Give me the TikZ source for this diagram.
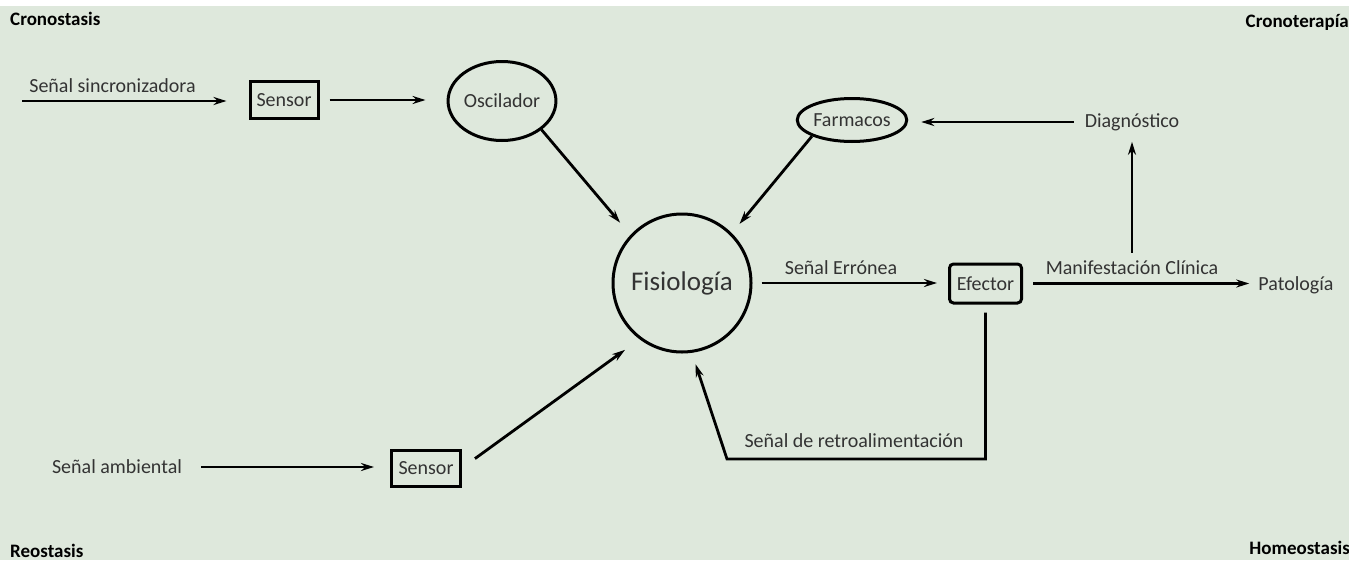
\documentclass[tikz,border=0pt]{standalone}
\usepackage{fontspec}
\setmainfont{Carlito}
\usetikzlibrary{arrows.meta,shapes.geometric,calc}
\definecolor{bg}{HTML}{DEE8DC}
\definecolor{txt}{HTML}{333333}
\begin{document}
\begin{tikzpicture}[x=1pt,y=-1pt,
  lbl/.style={font=\fontsize{20}{24}\selectfont,text=txt,inner sep=0pt},
  corner/.style={font=\fontsize{19}{22}\selectfont\bfseries,text=black,inner sep=0pt},
  sensorbox/.style={draw,line width=3pt,minimum width=68pt,minimum height=37pt,inner sep=0pt,font=\fontsize{20}{24}\selectfont,text=txt},
  oval/.style={ellipse,draw,line width=3pt,inner sep=0pt,font=\fontsize{20}{24}\selectfont,text=txt},
  conn/.style={line width=2.8pt,-{Stealth[length=13pt,width=8pt]}}
]
\useasboundingbox (0,0) rectangle (1349,560);
\fill[white] (0,0) rectangle (1349,560);
\fill[bg] (0,6) rectangle (1349,560);

% corner labels
\node[corner,anchor=west] (cron) at (10,19) {Cronostasis};
\node[corner,anchor=east] (crot) at (1349,22) {Cronoterapía};
\node[corner,anchor=west] (reo) at (10,551) {Reostasis};
\node[corner,anchor=east] (homeo) at (1350,548) {Homeostasis};

% nodes
\node[sensorbox] (s1) at (284,100) {Sensor};
\node[oval,minimum width=91pt,minimum height=79pt] (osc) at (502,101) {Oscilador};
\node[circle,draw,line width=3pt,minimum size=138pt,inner sep=0pt,font=\fontsize{27}{32}\selectfont,text=txt] (fis) at (682,283) {Fisiología};
\node[oval,minimum width=97pt,minimum height=43pt] (farm) at (852,120) {Farmacos};
\node[lbl] (diag) at (1132,122) {Diagnóstico};
\node[draw,rounded corners=4pt,line width=3pt,minimum width=72pt,minimum height=39pt,inner sep=0pt,font=\fontsize{20}{24}\selectfont,text=txt] (eff) at (985.5,283.5) {Efector};
\node[lbl] (pat) at (1296,285) {Patología};
\node[lbl] (amb) at (117,467) {Señal ambiental};
\node[sensorbox,minimum width=69pt,minimum height=36pt] (s2) at (426,468) {Sensor};

% edge labels
\node[lbl] (lsync) at (112.5,86) {Señal sincronizadora};
\node[lbl] (lerr) at (841,268) {Señal Errónea};
\node[lbl] (lman) at (1132,268) {Manifestación Clínica};
\node[lbl] (lret) at (854,441) {Señal de retroalimentación};

% free coordinates
\coordinate (in1) at (22,101);
\coordinate (fbc) at (727,459);

% connectors
\draw[conn,shorten >=22pt] (in1) -- (in1 -| s1.west);
\draw[conn,shorten <=10pt,shorten >=21pt] (s1.east) -- (s1.east -| osc.west);
\draw[conn,shorten >=16pt] (osc.-36) -- (fis.137);
\draw[conn,shorten >=12pt] (farm.-158) -- (fis.45);
\draw[conn,shorten <=11pt,shorten >=13pt] (diag.west) -- (diag.west -| farm.east);
\draw[conn,shorten <=9pt,shorten >=11pt] (fis.east) -- (fis.east -| eff.west);
\draw[conn,shorten <=10pt,shorten >=9pt] (eff.east) -- (eff.east -| pat.west);
\draw[conn,shorten <=8pt,shorten >=11pt] (lman.north) -- (diag.south);
\draw[conn,shorten <=8pt,shorten >=12pt,line join=miter]
  (eff.south) -- (eff.south |- fbc) -- (fbc) -- (fis.-82);
\draw[conn,shorten <=19pt,shorten >=16pt] (amb.east) -- (amb.east -| s2.west);
\draw[conn,shorten <=16pt,shorten >=18pt] (s2.east) -- (fis.-127);
\end{tikzpicture}
\end{document}
